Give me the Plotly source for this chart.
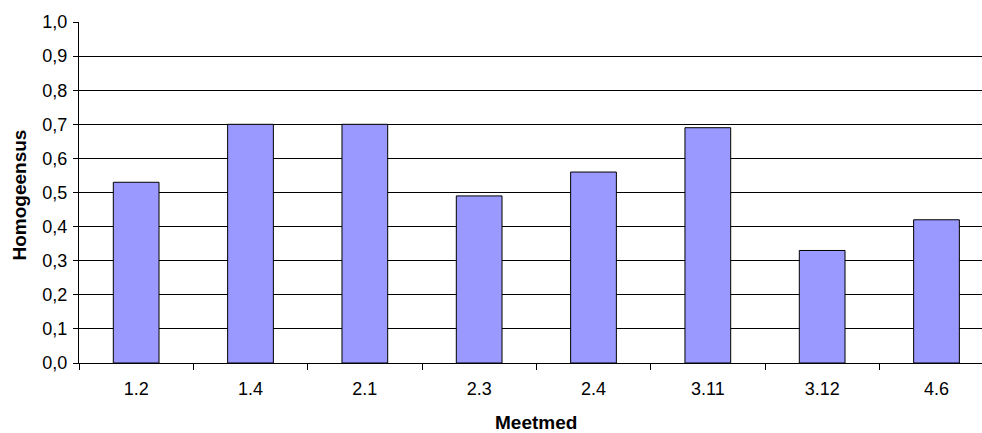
import plotly.graph_objects as go

# Homogeneity per measure
categories = ["1.2", "1.4", "2.1", "2.3", "2.4", "3.11", "3.12", "4.6"]
values = [0.53, 0.70, 0.70, 0.49, 0.56, 0.69, 0.33, 0.42]
y_ticks = [0.0, 0.1, 0.2, 0.3, 0.4, 0.5, 0.6, 0.7, 0.8, 0.9, 1.0]

font_family = "Arial, Liberation Sans, sans-serif"

fig = go.Figure(
    go.Bar(
        x=categories,
        y=values,
        marker=dict(color="#9999FF", line=dict(color="black", width=1)),
        width=0.4,
    )
)

fig.update_layout(
    width=982,
    height=433,
    margin=dict(l=79, r=0, t=22, b=70),
    paper_bgcolor="white",
    plot_bgcolor="white",
    separators=", ",
    showlegend=False,
    font=dict(family=font_family, size=18, color="black"),
)

fig.update_xaxes(
    type="category",
    range=[-0.5, 7.398],
    showline=True,
    linecolor="black",
    linewidth=1,
    ticks="outside",
    tickson="boundaries",
    ticklen=6,
    tickcolor="black",
    showgrid=False,
    tickfont=dict(size=18),
    ticklabelstandoff=9,
)

fig.update_yaxes(
    range=[0, 1],
    tickvals=y_ticks,
    tickformat=".1f",
    showline=True,
    linecolor="black",
    linewidth=1,
    ticks="outside",
    ticklen=5,
    tickcolor="black",
    showgrid=True,
    gridcolor="black",
    gridwidth=1,
    zeroline=False,
    tickfont=dict(size=18),
    ticklabelstandoff=2,
)

fig.add_annotation(
    text="<b>Homogeensus</b>",
    xref="paper", yref="paper",
    x=0, y=0.5,
    xanchor="center", yanchor="middle",
    xshift=-60, yshift=-3,
    textangle=-90,
    showarrow=False,
    font=dict(size=19),
)

fig.add_annotation(
    text="<b>Meetmed</b>",
    xref="x", yref="paper",
    x=3.5, y=0,
    xanchor="center", yanchor="middle",
    yshift=-59,
    borderpad=0,
    showarrow=False,
    font=dict(size=19),
)

fig.write_html("out.html")
